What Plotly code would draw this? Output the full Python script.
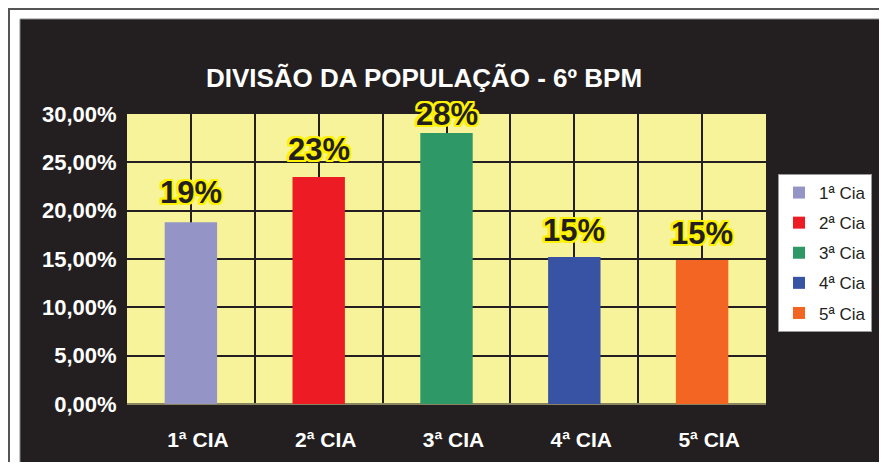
import plotly.graph_objects as go

categories = ["1ª CIA", "2ª CIA", "3ª CIA", "4ª CIA", "5ª CIA"]
legend_names = ["1ª Cia", "2ª Cia", "3ª Cia", "4ª Cia", "5ª Cia"]
values = [0.188, 0.2348, 0.2803, 0.152, 0.149]
labels = ["19%", "23%", "28%", "15%", "15%"]
colors = ["#9594c6", "#ed1c24", "#2e9966", "#3953a4", "#f26522"]
label_shift = [30, 28, 19, 27, 26]

# page body has an 8px margin; reference pixel p -> figure pixel p - OFF
OFF = 8
W, H = 887 - OFF, 470 - 2 * OFF
L, R, T = 127 - OFF, (887 - OFF) - (766 - OFF), 114 - OFF
B = H - (404 - OFF)
pw, ph = W - L - R, H - T - B

def px_x(p):
    return (p - OFF - L) / pw

def px_y(p):
    return 1 - (p - OFF - T) / ph

FONT = "Liberation Sans, Arial, Helvetica, sans-serif"
DARK = "#231f20"
YEL = "#fff200"

fig = go.Figure()
xs = list(range(len(categories)))
for i, (nm, v, c) in enumerate(zip(legend_names, values, colors)):
    fig.add_trace(go.Bar(
        x=[xs[i]], y=[v], name=nm, marker=dict(color=c, line=dict(width=0)),
        width=0.41, legendgroup=nm, hoverinfo="skip",
    ))

shadow = ", ".join(f"{dx}px {dy}px 0 {YEL}" for dx in (-2, -1, 0, 1, 2) for dy in (-2, -1, 0, 1, 2) if (dx, dy) != (0, 0))
for i, (v, t) in enumerate(zip(values, labels)):
    fig.add_annotation(
        x=xs[i], y=v, text=f"<b>{t}</b>", showarrow=False, xref="x", yref="y",
        yanchor="middle", yshift=label_shift[i],
        font=dict(family=FONT, size=31, color=DARK, shadow=shadow),
    )

shapes = [
    dict(type="rect", xref="paper", yref="paper", x0=px_x(9), x1=px_x(895), y0=px_y(9), y1=px_y(480),
         line=dict(color="#555555", width=2), fillcolor="white", layer="below"),
    dict(type="rect", xref="paper", yref="paper", x0=px_x(20), x1=px_x(886), y0=px_y(19), y1=px_y(466),
         line=dict(color="#888888", width=1), fillcolor=DARK, layer="below"),
    dict(type="rect", xref="paper", yref="paper", x0=0, x1=1, y0=0, y1=1,
         line=dict(width=0), fillcolor="#f7f39a", layer="below"),
]

fig.update_layout(
    width=W, height=H,
    margin=dict(l=L, r=R, t=T, b=B),
    paper_bgcolor="white", plot_bgcolor="rgba(0,0,0,0)",
    barmode="overlay",
    separators=",.",
    showlegend=True,
    shapes=shapes,
    title=dict(text="<b>DIVISÃO DA POPULAÇÃO - 6º BPM</b>", x=px_x(424), xref="paper", xanchor="center",
               y=1 - (77.5 - OFF) / H, yref="container", yanchor="middle",
               font=dict(family=FONT, size=26, color="white")),
    legend=dict(x=px_x(778), y=px_y(174), xanchor="left", yanchor="top",
                bgcolor="white", bordercolor="#999999", borderwidth=1,
                font=dict(family=FONT, size=17, color=DARK),
                tracegroupgap=5, itemwidth=30),
    xaxis=dict(range=[-0.5, 4.5], tickvals=xs, ticktext=categories, showgrid=False, zeroline=False,
               tickfont=dict(family=FONT, size=21, color="white", weight="bold"),
               ticks="outside", ticklen=17, tickcolor="rgba(0,0,0,0)", ticklabelshift=7,
               minor=dict(tickvals=[x - 0.5 for x in xs] + [x for x in xs] + [4.5], showgrid=True,
                          gridcolor=DARK, gridwidth=2, ticks=""),
               showline=False, fixedrange=True),
    yaxis=dict(range=[0, 0.30], dtick=0.05, tickformat=".2%", showgrid=True, gridcolor=DARK, gridwidth=2,
               zeroline=True, zerolinecolor="#8a8560", zerolinewidth=2,
               tickfont=dict(family=FONT, size=22, color="white", weight="bold"),
               ticks="outside", ticklen=4, tickcolor="rgba(0,0,0,0)",
               showline=True, linecolor=DARK, linewidth=2, fixedrange=True),
)

fig.write_html("out.html")
